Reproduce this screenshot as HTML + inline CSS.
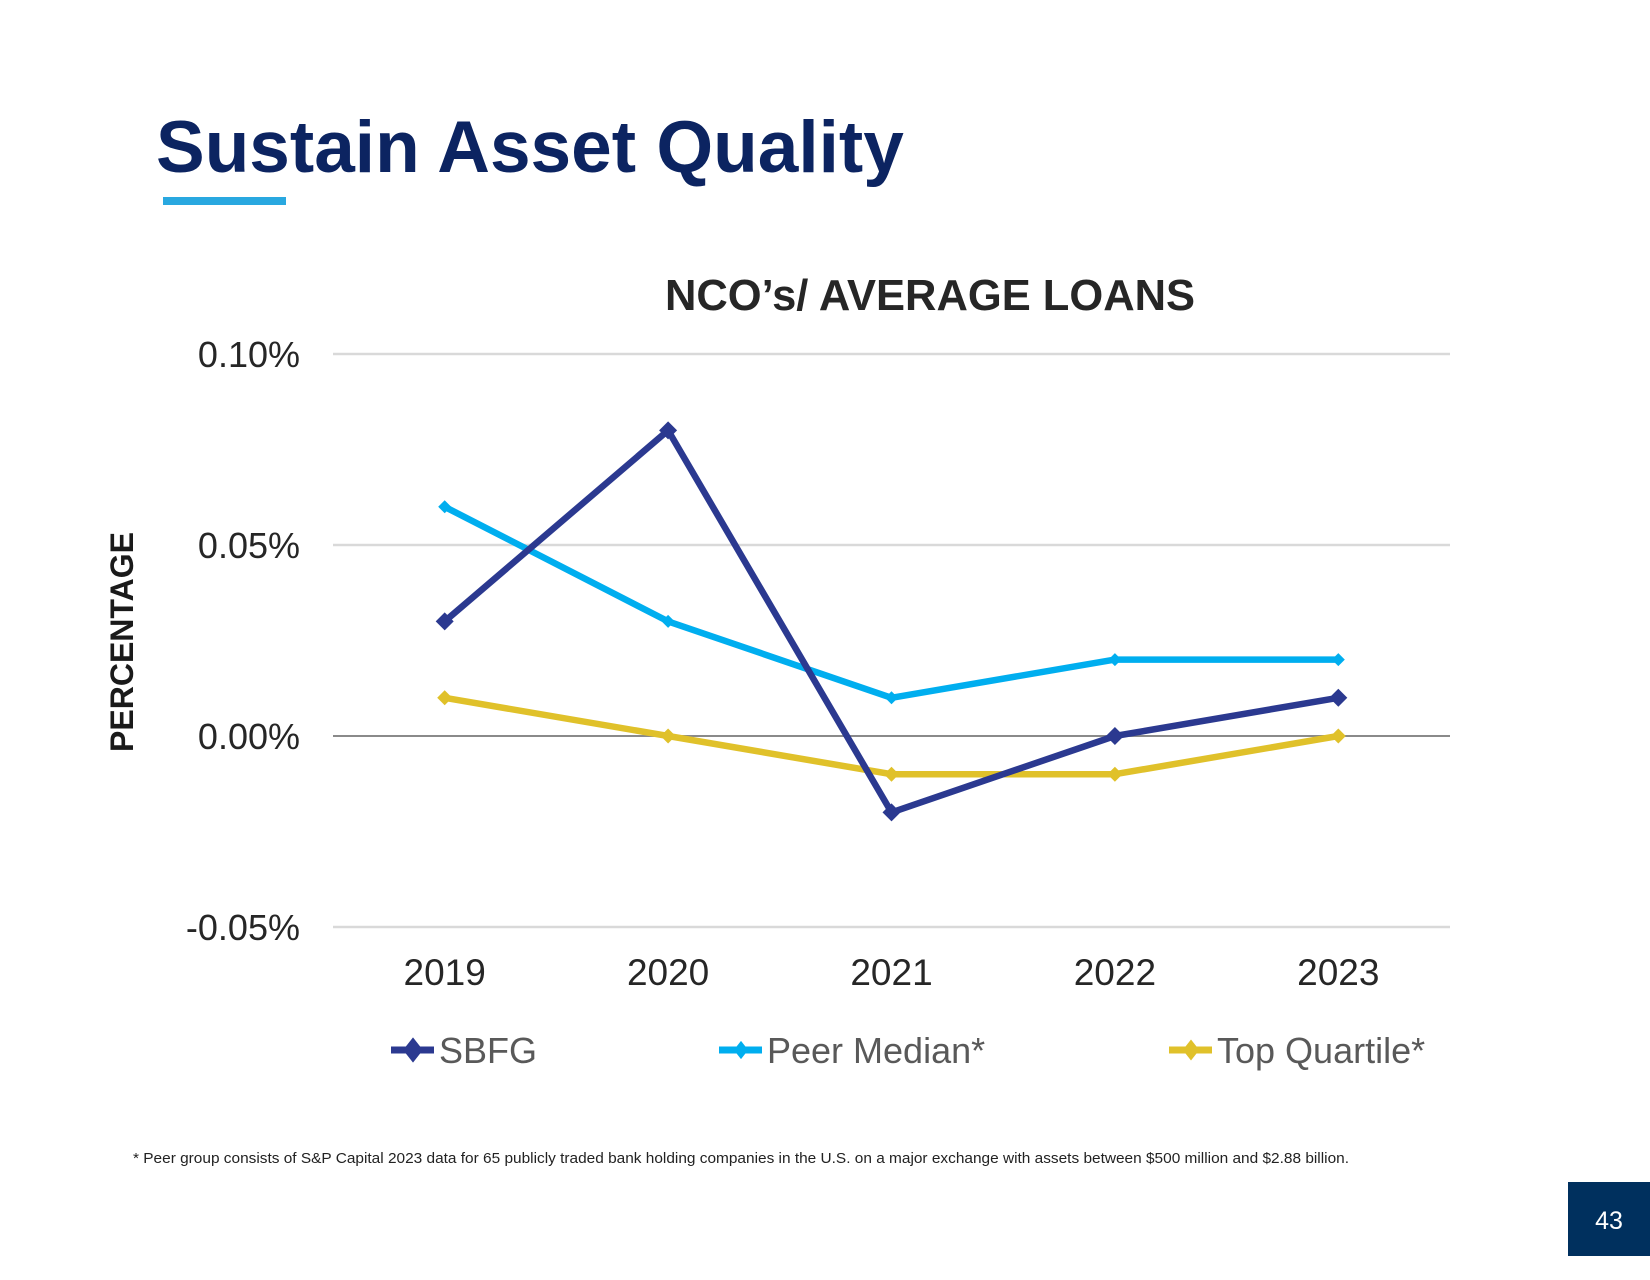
<!DOCTYPE html>
<html><head><meta charset="utf-8"><style>
html,body{margin:0;padding:0;background:#fff;}
body{width:1650px;height:1275px;position:relative;overflow:hidden;font-family:"Liberation Sans",sans-serif;}
</style></head><body>
<svg width="1650" height="1275" xmlns="http://www.w3.org/2000/svg">
<text x="156" y="172" font-size="73" font-weight="bold" fill="#0C2461" font-family="Liberation Sans">Sustain Asset Quality</text>
<rect x="163" y="197" width="123" height="8" fill="#29A8E0"/>
<text x="930" y="310" font-size="43.5" font-weight="bold" fill="#262626" text-anchor="middle">NCO’s/ AVERAGE LOANS</text>
<text transform="translate(133,642) rotate(-90)" font-size="32" font-weight="bold" fill="#1a1a1a" text-anchor="middle">PERCENTAGE</text>
<g id="grid"></g><g id="series"></g><g id="legend"></g>
<text x="133" y="1163" font-size="14.5" fill="#222" textLength="1216" lengthAdjust="spacingAndGlyphs">* Peer group consists of S&amp;P Capital 2023 data for 65 publicly traded bank holding companies in the U.S. on a major exchange with assets between $500 million and $2.88 billion.</text>
<rect x="1568" y="1182" width="82" height="74" fill="#00305E"/>
<text x="1609" y="1229" font-size="25" fill="#fff" text-anchor="middle">43</text>
</svg>
<script>
const categories=["2019","2020","2021","2022","2023"];
const sbfg=[0.03,0.08,-0.02,0.00,0.01];
const peerMedian=[0.06,0.03,0.01,0.02,0.02];
const topQuartile=[0.01,0.00,-0.01,-0.01,0.00];
const yTicks=[0.10,0.05,0.00,-0.05];
const yTickLabels=["0.10%","0.05%","0.00%","-0.05%"];
const NS="http://www.w3.org/2000/svg";
const x0=333,x1=1450,yTop=354,yBot=927,vMax=0.10,vMin=-0.05;
const xs=i=>x0+(x1-x0)/categories.length*(i+0.5);
const ys=v=>yTop+(vMax-v)/(vMax-vMin)*(yBot-yTop);
function mk(tag,attrs,parent){const e=document.createElementNS(NS,tag);for(const k in attrs)e.setAttribute(k,attrs[k]);parent.appendChild(e);return e;}
const grid=document.getElementById('grid');
yTicks.forEach((t,i)=>{
 const l=mk('line',{x1:x0,x2:x1,y1:ys(t),y2:ys(t),stroke:t===0?'#8a8a8a':'#d9d9d9','stroke-width':t===0?2:2.5},grid);
 
 
 const tx=mk('text',{x:300,y:ys(t)+13,'font-size':36,fill:'#262626','text-anchor':'end'},grid);
 tx.textContent=yTickLabels[i];
 
 
});
categories.forEach((c,i)=>{
 const tx=mk('text',{x:xs(i),y:985,'font-size':37,fill:'#262626','text-anchor':'middle'},grid);
 tx.textContent=c;
 
 
});
const seriesG=document.getElementById('series');
const defs=[["sbfg",sbfg,"#2B3990",9],["peer-median",peerMedian,"#00AEEF",6.5],["top-quartile",topQuartile,"#E0C12A",7.5]];
[defs[2],defs[1],defs[0]].forEach(([name,vals,col,m])=>{
 const p=mk('polyline',{points:vals.map((v,i)=>xs(i)+','+ys(v)).join(' '),fill:'none',stroke:col,'stroke-width':6.5,'stroke-linejoin':'round'},seriesG);
 
 
 vals.forEach((v,i)=>{
  const cx=xs(i),cy=ys(v);
  const d=mk('polygon',{points:`${cx},${cy-m} ${cx+m},${cy} ${cx},${cy+m} ${cx-m},${cy}`,fill:col},seriesG);
  
  
 });
});
const lg=document.getElementById('legend');
const legendItems=[["SBFG",391,"#2B3990",9],["Peer Median*",719,"#00AEEF",6.5],["Top Quartile*",1169,"#E0C12A",7.5]];
legendItems.forEach(([label,lx,col,m])=>{
 const g=mk('g',{},lg);
 
 
 const cy=1050,cx=lx+22;
 mk('line',{x1:lx,x2:lx+43,y1:cy,y2:cy,stroke:col,'stroke-width':7},g);
 mk('polygon',{points:`${cx},${cy-m*1.4} ${cx+m*1.1},${cy} ${cx},${cy+m*1.4} ${cx-m*1.1},${cy}`,fill:col},g);
 const t=mk('text',{x:lx+48,y:cy+13,'font-size':36,fill:'#595959'},g);
 t.textContent=label;
});
</script>
</body></html>
